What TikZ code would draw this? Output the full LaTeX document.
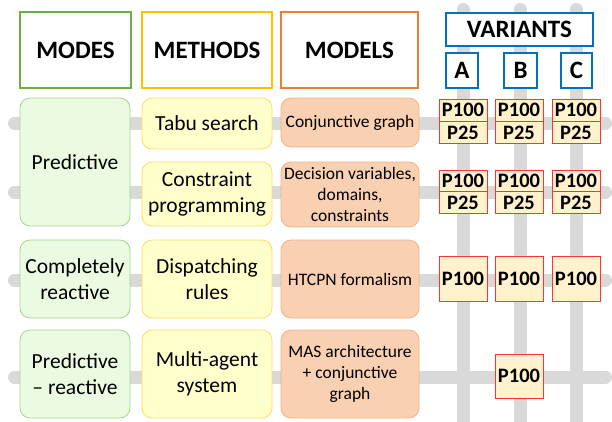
\documentclass[tikz,border=0pt]{standalone}
\usepackage{fontspec}
\setmainfont{Carlito}
\definecolor{railgray}{HTML}{D9D9D9}
\definecolor{hgreen}{HTML}{70AD47}
\definecolor{hyellow}{HTML}{FFC000}
\definecolor{horange}{HTML}{ED7D31}
\definecolor{hblue}{HTML}{0070C0}
\definecolor{mfill}{HTML}{EBFBE1}
\definecolor{mline}{HTML}{A9D18E}
\definecolor{yfill}{HTML}{FFFFCC}
\definecolor{yline}{HTML}{FFD966}
\definecolor{ofill}{HTML}{F9D0B2}
\definecolor{oline}{HTML}{F4B183}
\definecolor{pfill}{HTML}{FFF2CC}
\definecolor{pline}{HTML}{FF3333}
\tikzset{
  rail/.style={railgray, line width=13pt, line cap=round},
  head/.style={draw, line width=1.5pt, fill=white, inner sep=0pt, font=\fontsize{25}{30}\selectfont\bfseries},
  modebox/.style={draw=mline, fill=mfill, line width=0.8pt, rounded corners=10pt, inner sep=0pt, align=center, minimum width=110pt, font=\fontsize{21.5}{25.8}\selectfont},
  methbox/.style={draw=yline, fill=yfill, line width=0.8pt, rounded corners=10pt, inner sep=0pt, align=center, minimum width=130pt, font=\fontsize{21.5}{25.8}\selectfont},
  modelbox/.style={draw=oline, fill=ofill, line width=0.8pt, rounded corners=10pt, inner sep=0pt, align=center, minimum width=138pt, font=\fontsize{17.5}{21}\selectfont},
  pcell/.style={draw=pline, fill=pfill, line width=1pt, inner sep=0pt, minimum width=48pt, font=\fontsize{20.5}{24}\selectfont\bfseries},
}
\begin{document}
\begin{tikzpicture}[x=1pt, y=-1pt]
\useasboundingbox (0,0) rectangle (612,421);
% rails
\coordinate (h1l) at (14.5,123); \coordinate (h1r) at (605.5,123);
\coordinate (h2l) at (14.5,192); \coordinate (h2r) at (605.5,192);
\coordinate (h3l) at (14.5,280); \coordinate (h3r) at (605.5,280);
\coordinate (h4l) at (14.5,377); \coordinate (h4r) at (605.5,377);
\coordinate (vat) at (463,9.5); \coordinate (vab) at (463,430);
\coordinate (vbt) at (520,9.5); \coordinate (vbb) at (520,430);
\coordinate (vct) at (576,9.5); \coordinate (vcb) at (576,430);
\foreach \a/\b in {h1l/h1r,h2l/h2r,h3l/h3r,h4l/h4r,vat/vab,vbt/vbb,vct/vcb}
  \draw[rail] (\a) -- (\b);
% headers
\node[head, draw=hgreen, minimum width=111pt, minimum height=76pt] (hmodes) at (75.5,50) {MODES};
\node[head, draw=hyellow, minimum width=130pt, minimum height=76pt] (hmeth) at (207,50) {METHODS};
\node[head, draw=horange, minimum width=137pt, minimum height=76pt] (hmodels) at (349.5,50) {MODELS};
\node[head, draw=hblue, minimum width=147pt, minimum height=33pt] (hvar) at (519.5,29.5) {VARIANTS};
\node[head, draw=hblue, minimum width=32pt, minimum height=35pt] (va) at (462,70.5) {A};
\node[head, draw=hblue, minimum width=33pt, minimum height=35pt] (vb) at (520.5,70.5) {B};
\node[head, draw=hblue, minimum width=31pt, minimum height=35pt] (vc) at (576.5,70.5) {C};
% modes
\node[modebox, minimum height=128pt] (m1) at (75,162) {Predictive};
\node[modebox, minimum height=78pt] (m2) at (75,279) {Completely\\reactive};
\node[modebox, minimum height=88pt] (m3) at (75,374) {Predictive\\– reactive};
% methods
\node[methbox, minimum height=51pt] (t1) at (207,123.5) {Tabu search};
\node[methbox, minimum height=64pt] (t2) at (207,194) {Constraint\\programming};
\node[methbox, minimum height=78pt] (t3) at (207,279) {Dispatching\\rules};
\node[methbox, minimum height=88pt] (t4) at (207,374) {Multi-agent\\system};
% models
\node[modelbox, minimum height=49pt] (d1) at (350,122.5) {Conjunctive graph};
\node[modelbox, minimum height=65pt] (d2) at (350,194.5) {Decision variables,\\domains,\\constraints};
\node[modelbox, minimum height=78pt] (d3) at (350,279) {HTCPN formalism};
\node[modelbox, minimum height=88pt] (d4) at (350,374) {MAS architecture\\+ conjunctive\\graph};
% P cells
\foreach \n/\x in {a/463,b/519,c/576}{
  \node[pcell, minimum height=22pt] (p1\n u) at (\x,110) {P100};
  \node[pcell, minimum height=22pt] (p1\n d) at (\x,132.5) {P25};
  \node[pcell, minimum height=22pt] (p2\n u) at (\x,181) {P100};
  \node[pcell, minimum height=21.5pt] (p2\n d) at (\x,202.5) {P25};
  \node[pcell, minimum height=45pt] (p3\n) at (\x,278.5) {P100};
}
\node[pcell, minimum height=44pt] (p4b) at (519,376) {P100};
\end{tikzpicture}
\end{document}
